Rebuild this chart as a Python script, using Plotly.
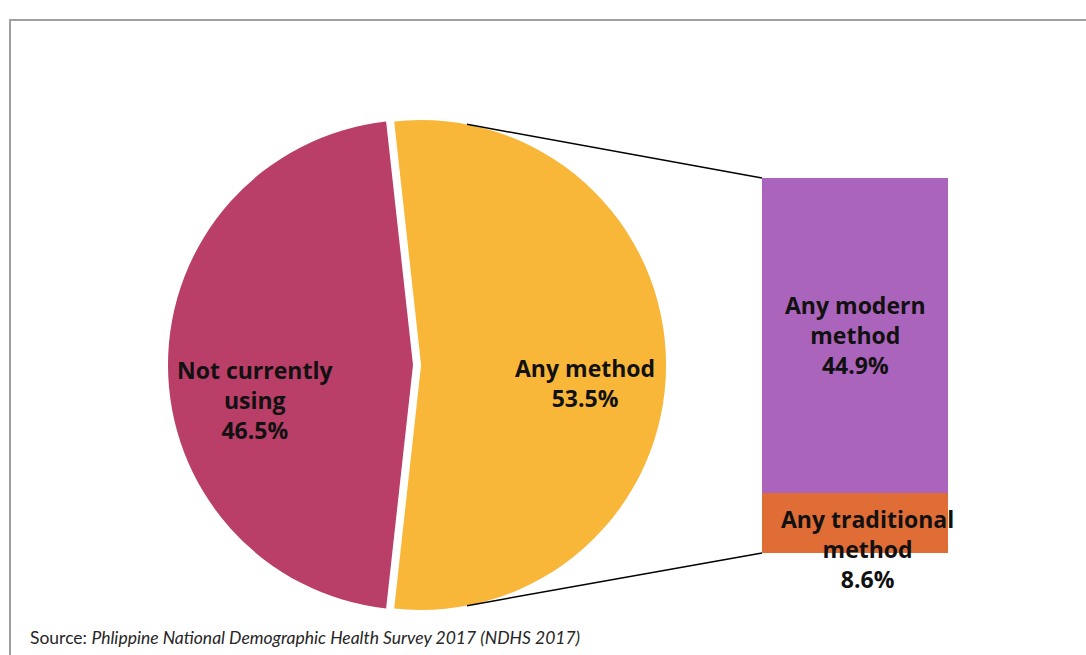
import math
import plotly.graph_objects as go

# --- data ---------------------------------------------------------------
pie_labels = ["Not currently using", "Any method"]
pie_values = [46.5, 53.5]
pie_colors = ["#B93E68", "#F8B739"]
pie_text_lines = [["Not currently", "using"], ["Any method"]]

bar_labels = ["Any traditional method", "Any modern method"]
bar_values = [8.6, 44.9]
bar_colors = ["#E06C36", "#AB64BB"]
bar_text_lines = [["Any traditional", "method"], ["Any modern", "method"]]

source_prefix = "Source: "
source_title = "Phlippine National Demographic Health Survey 2017 (NDHS 2017)"

# --- layout constants (pixels) -------------------------------------------
W, H = 1086, 655
PIE_CX, PIE_CY, PIE_R = 413, 365, 245
PULL = 0.033
BAR_X0, BAR_X1, BAR_TOP, BAR_BOT = 762, 948, 178, 553
FONT = "Open Sans"


def px(x):
    return x / W


def py(y):
    return 1 - y / H


fig = go.Figure()

# pie: the "any method" slice is centred on the right and pulled out
any_share = pie_values[1] / sum(pie_values) * 360.0
start_angle = 90 + any_share / 2  # clockwise from 12 o'clock
half = PIE_R * (1 + PULL)
fig.add_trace(go.Pie(
    labels=pie_labels,
    values=pie_values,
    marker=dict(colors=pie_colors, line=dict(width=0)),
    pull=[0, PULL],
    sort=False,
    direction="clockwise",
    rotation=start_angle,
    textinfo="none",
    hoverinfo="label+percent",
    showlegend=False,
    domain=dict(x=[px(PIE_CX - half), px(PIE_CX + half)],
                y=[py(PIE_CY + half), py(PIE_CY - half)]),
))

# stacked column breaking down "any method"
for lab, val, col in zip(bar_labels, bar_values, bar_colors):
    fig.add_trace(go.Bar(
        x=[0], y=[val], name=lab, width=1,
        marker=dict(color=col, line=dict(width=0)),
        xaxis="x2", yaxis="y2", showlegend=False,
        hoverinfo="name+y",
    ))

bar_total = sum(bar_values)

annotations = []
label_font = dict(family=FONT, size=23, color="#111111", weight="bold")

# pie labels
pie_label_pos = [(255, 400), (585, 383)]
for lines, val, (lx, ly) in zip(pie_text_lines, pie_values, pie_label_pos):
    annotations.append(dict(
        x=px(lx), y=py(ly), xref="paper", yref="paper",
        text="<br>".join(lines + [f"{val:.1f}%"]),
        showarrow=False, font=label_font, align="center",
        xanchor="center", yanchor="middle",
    ))

# column labels, placed in the column's data coordinates
base = 0.0
bar_label_shift = [(12, -26), (0, 0)]
for lines, val, (dx, dy) in zip(bar_text_lines, bar_values, bar_label_shift):
    annotations.append(dict(
        x=0, y=base + val / 2, xref="x2", yref="y2",
        text="<br>".join(lines + [f"{val:.1f}%"]),
        showarrow=False, font=label_font, align="center",
        xanchor="center", yanchor="middle", xshift=dx, yshift=dy,
    ))
    base += val

# source note
annotations.append(dict(
    x=px(28), y=py(637), xref="paper", yref="paper",
    text=f"{source_prefix}<i>{source_title}</i>",
    showarrow=False, xanchor="left", yanchor="middle",
    font=dict(family="Lato", size=17.5, color="#262626"),
))

# connector lines from the pulled slice to the column corners
slice_cx = PIE_CX + PULL * PIE_R
conn_angle = math.radians(10.8)
top_pt = (slice_cx + PIE_R * math.sin(conn_angle), PIE_CY - PIE_R * math.cos(conn_angle))
bot_pt = (slice_cx + PIE_R * math.sin(conn_angle), PIE_CY + PIE_R * math.cos(conn_angle))
shapes = [
    dict(type="line", xref="paper", yref="paper",
         x0=px(top_pt[0]), y0=py(top_pt[1]), x1=px(BAR_X0), y1=py(BAR_TOP),
         line=dict(color="#000000", width=1.5)),
    dict(type="line", xref="paper", yref="paper",
         x0=px(bot_pt[0]), y0=py(bot_pt[1]), x1=px(BAR_X0), y1=py(BAR_BOT),
         line=dict(color="#000000", width=1.5)),
    # chart frame
    dict(type="rect", xref="paper", yref="paper",
         x0=px(10), y0=-0.05, x1=1.05, y1=py(20),
         line=dict(color="#A0A0A0", width=2), layer="below"),
]

fig.update_layout(
    width=W, height=H,
    margin=dict(l=0, r=0, t=0, b=0),
    paper_bgcolor="white", plot_bgcolor="rgba(0,0,0,0)",
    barmode="stack",
    xaxis2=dict(domain=[px(BAR_X0), px(BAR_X1)], range=[-0.5, 0.5],
                visible=False, fixedrange=True, anchor="y2"),
    yaxis2=dict(domain=[py(BAR_BOT), py(BAR_TOP)], range=[0, bar_total],
                visible=False, fixedrange=True, anchor="x2"),
    xaxis=dict(visible=False),
    yaxis=dict(visible=False),
    annotations=annotations,
    shapes=shapes,
    font=dict(family=FONT),
)

fig.write_html("out.html")
